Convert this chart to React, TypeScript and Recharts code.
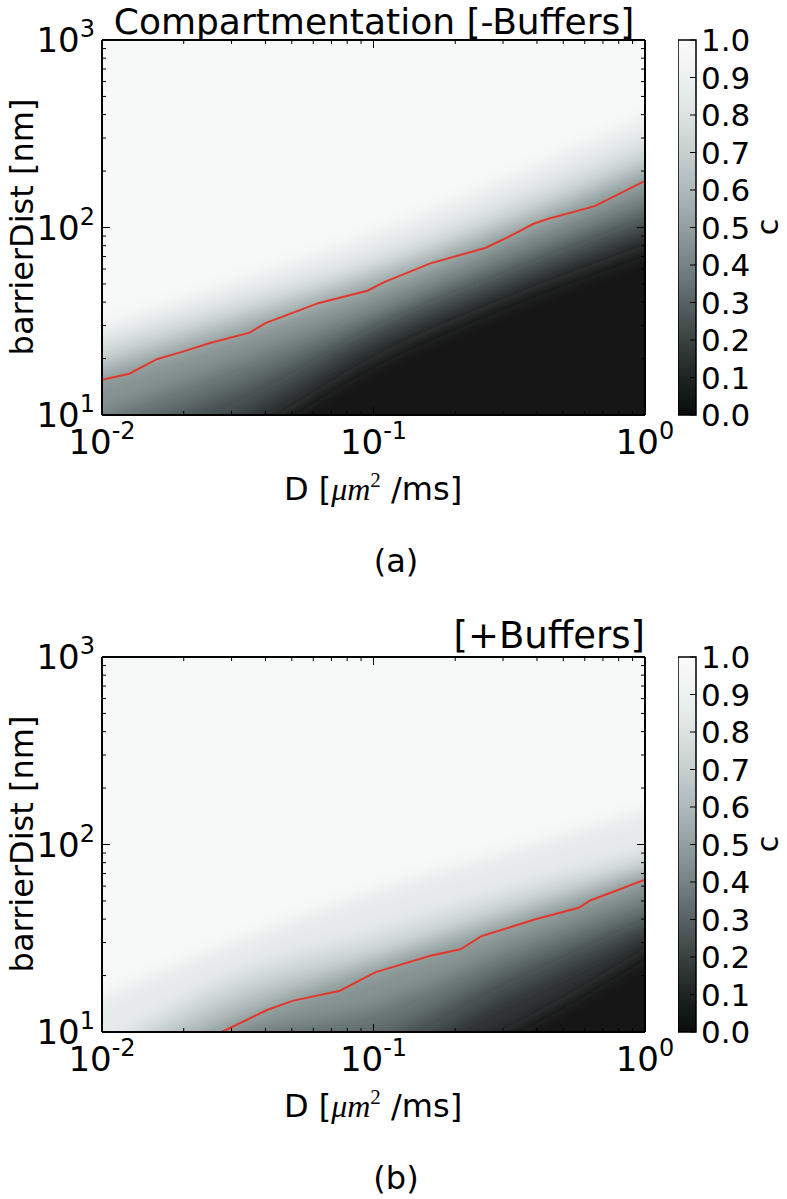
import React from 'react'
import { ComposedChart, Area, Line, XAxis, YAxis, CartesianGrid, BarChart, Bar } from 'recharts'

// tick positions (log axes get decade + minor ticks)
const xTicks = [0.01, 0.02, 0.03, 0.04, 0.05, 0.06, 0.07, 0.08, 0.09, 0.1, 0.2, 0.3, 0.4, 0.5, 0.6, 0.7, 0.8, 0.9, 1]
const yTicks = [10, 20, 30, 40, 50, 60, 70, 80, 90, 100, 200, 300, 400, 500, 600, 700, 800, 900, 1000]
const cbTicks = [0, 0.1, 0.2, 0.3, 0.4, 0.5, 0.6, 0.7, 0.8, 0.9, 1]
const cbData = [{ k: 'c', v: 1 }]

// grey colour map, c = 0.0 ... 1.0
const cmap = ['#0a0c0c', '#1f2323', '#3a4141', '#586262', '#778383', '#94a0a0', '#afb9b9', '#c7cfcf', '#dde2e2', '#eef1f1', '#fafbfb']
const topFill = '#f7f8f8'

const dCols = [0.01, 0.0316, 0.1, 0.316, 1]

// panel (a) [-Buffers]: barrierDist where c crosses each level
const a90 = [29, 50, 90, 180, 380]
const a80 = [24, 40, 68, 135, 280]
const a70 = [20, 34, 58, 112, 230]
const a60 = [17.5, 30, 52, 98, 200]
const a50 = [15.4, 26.3, 46, 89, 177]
const a40 = [10, 19, 36, 72, 140]
const a30 = [7.5, 14, 30, 60, 115]
const a20 = [5.5, 10, 25, 50, 95]
const a10 = [3, 7, 19, 40, 75]

// panel (b) [+Buffers]
const b90 = [15, 30, 55, 90, 150]
const b80 = [8, 20, 33, 56, 90]
const b70 = [6.5, 16, 26, 46, 76]
const b60 = [5.5, 13, 23, 40, 69]
const b50 = [4.8, 11, 20.5, 36, 65]
const b40 = [4, 9, 13.5, 27, 51]
const b30 = [3.3, 7.5, 9.5, 21, 41]
const b20 = [2.7, 6, 7, 15.5, 34]
const b10 = [2, 4.5, 5, 10, 26]

// red contour lines
const redAD = [0.01, 0.0126, 0.016, 0.0197, 0.025, 0.035, 0.04, 0.063, 0.095, 0.109, 0.162, 0.258, 0.309, 0.389, 0.441, 0.653, 1]
const redAV = [15.4, 16.6, 19.9, 21.7, 24.2, 27.5, 30.9, 39.6, 46, 51, 64.4, 77.8, 88.1, 104.7, 111.3, 130, 177]
const redBD = [0.0276, 0.0405, 0.0507, 0.0753, 0.1014, 0.162, 0.209, 0.251, 0.395, 0.57, 0.629, 1]
const redBV = [10, 13.1, 14.7, 16.6, 20.8, 25.5, 27.6, 32.5, 39.9, 46, 50.3, 65]

const levelKeys = ['c90', 'c80', 'c70', 'c60', 'c50', 'c40', 'c30', 'c20', 'c10']
const FLOOR = 1

const FONT = '"DejaVu Sans", sans-serif'

function mix(a: string, b: string) {
  const pa = [1, 3, 5].map(i => parseInt(a.slice(i, i + 2), 16))
  const pb = [1, 3, 5].map(i => parseInt(b.slice(i, i + 2), 16))
  return '#' + pa.map((v, i) => Math.round((v + pb[i]) / 2).toString(16).padStart(2, '0')).join('')
}

function buildTable(cols: number[][]) {
  return dCols.map((d, i) => {
    const row: Record<string, number> = { d }
    levelKeys.forEach((k, j) => { row[k] = cols[j][i] })
    return row
  })
}

const tableA = buildTable([a90, a80, a70, a60, a50, a40, a30, a20, a10])
const tableB = buildTable([b90, b80, b70, b60, b50, b40, b30, b20, b10])
const redA = redAD.map((d, i) => ({ d, v: redAV[i] }))
const redB = redBD.map((d, i) => ({ d, v: redBV[i] }))

const isDecade = (v: number) => Math.abs(Math.log10(v) - Math.round(Math.log10(v))) < 1e-6

// ticks point inwards like matplotlib; labels only on decades
function AxisTick(props: any) {
  const { x, y, payload, side } = props
  const v = payload.value
  const major = isDecade(v)
  const len = major ? 8 : 4
  const exp = String(Math.round(Math.log10(v)))
  let line
  let label = null
  if (side === 'bottom') {
    line = <line x1={x} x2={x} y1={y} y2={y - len} stroke="#000" strokeWidth={1} />
    if (major) label = (
      <text x={x} y={y + 39} textAnchor="middle" fontFamily={FONT} fontSize={34} fill="#000">
        10<tspan dy={-15} fontSize={24}>{exp}</tspan>
      </text>
    )
  } else if (side === 'top') {
    line = <line x1={x} x2={x} y1={y} y2={y + len} stroke="#000" strokeWidth={1} />
  } else if (side === 'left') {
    line = <line x1={x} x2={x + len} y1={y} y2={y} stroke="#000" strokeWidth={1} />
    if (major) label = (
      <text x={x - 7} y={y + 12} textAnchor="end" fontFamily={FONT} fontSize={34} fill="#000">
        10<tspan dy={-15} fontSize={24}>{exp}</tspan>
      </text>
    )
  } else {
    line = <line x1={x} x2={x - len} y1={y} y2={y} stroke="#000" strokeWidth={1} />
  }
  return <g>{line}{label}</g>
}

function CbTick(props: any) {
  const { x, y, payload } = props
  return (
    <g>
      <line x1={x} x2={x - 6} y1={y} y2={y} stroke="#000" strokeWidth={1} />
      <text x={x + 5} y={y + 11} fontFamily={FONT} fontSize={31} fill="#000">{Number(payload.value).toFixed(1)}</text>
    </g>
  )
}

function HeatPanel({ table, red, id }: { table: Record<string, number>[]; red: { d: number; v: number }[]; id: string }) {
  const frame = { stroke: '#000', strokeWidth: 2 }
  return (
    <ComposedChart width={787} height={600} data={table} margin={{ top: 39, right: 141, bottom: 125, left: 42 }}>
      <defs>
        <filter id={`soft-${id}`} x="-5%" y="-20%" width="110%" height="140%">
          <feGaussianBlur stdDeviation="0 9" />
        </filter>
      </defs>
      <CartesianGrid horizontal={false} vertical={false} fill={topFill} />
      {levelKeys.map((k, j) => (
        <Area key={k} type="monotone" dataKey={(r: any) => [FLOOR, r[k]]} stroke="none"
          fill={mix(cmap[8 - j], cmap[9 - j])} fillOpacity={1} filter={`url(#soft-${id})`}
          dot={false} activeDot={false} isAnimationActive={false} />
      ))}
      <Line data={red} dataKey="v" type="linear" stroke="#e2382a" strokeWidth={2} dot={false} activeDot={false}
        isAnimationActive={false} />
      <XAxis dataKey="d" type="number" scale="log" domain={[0.01, 1]} allowDataOverflow ticks={xTicks} interval={0}
        height={60} tickSize={0} tickMargin={0} axisLine={frame} tickLine={false}
        tick={(p: any) => <AxisTick {...p} side="bottom" />} />
      <XAxis xAxisId="top" orientation="top" dataKey="d" type="number" scale="log" domain={[0.01, 1]} allowDataOverflow
        ticks={xTicks} interval={0} height={1} tickSize={0} tickMargin={0} axisLine={frame} tickLine={false}
        tick={(p: any) => <AxisTick {...p} side="top" />} />
      <YAxis type="number" scale="log" domain={[10, 1000]} allowDataOverflow ticks={yTicks} interval={0}
        width={60} tickSize={0} tickMargin={0} axisLine={frame} tickLine={false}
        tick={(p: any) => <AxisTick {...p} side="left" />} />
      <YAxis yAxisId="right" orientation="right" type="number" scale="log" domain={[10, 1000]} allowDataOverflow
        ticks={yTicks} interval={0} width={1} tickSize={0} tickMargin={0} axisLine={frame} tickLine={false}
        tick={(p: any) => <AxisTick {...p} side="right" />} />
    </ComposedChart>
  )
}

function ColorBar({ id }: { id: string }) {
  return (
    <BarChart width={109} height={600} data={cbData} margin={{ top: 40, right: 31, bottom: 185, left: 0 }} barCategoryGap={0}>
      <defs>
        <linearGradient id={id} x1="0" y1="1" x2="0" y2="0">
          {cmap.map((c, i) => <stop key={i} offset={i / 10} stopColor={c} />)}
        </linearGradient>
      </defs>
      <XAxis dataKey="k" hide />
      <YAxis orientation="right" domain={[0, 1]} ticks={cbTicks} interval={0} width={60} tickSize={0} tickMargin={0}
        axisLine={false} tickLine={false} tick={(p: any) => <CbTick {...p} />} />
      <Bar dataKey="v" fill={`url(#${id})`} stroke="#000" strokeWidth={1.5} isAnimationActive={false} />
    </BarChart>
  )
}

function Labels({ oy, tag }: { oy: number; tag: string }) {
  return (
    <g fontFamily={FONT} fill="#000">
      <text transform={`translate(33 ${oy + 227}) rotate(-90)`} textAnchor="middle" fontSize={32}>barrierDist [nm]</text>
      <text transform={`translate(778 ${oy + 227}) rotate(-90)`} textAnchor="middle" fontSize={30}>c</text>
      <text x={373} y={oy + 500} textAnchor="middle" fontSize={32}>
        D [<tspan fontFamily='"Liberation Serif", serif' fontStyle="italic">μm</tspan>
        <tspan fontFamily='"Liberation Serif", serif' fontSize={21} dy={-13}>2</tspan>
        <tspan dy={13}> /ms]</tspan>
      </text>
      <text x={396} y={oy + 572} textAnchor="middle" fontSize={32}>{tag}</text>
    </g>
  )
}

export default function App() {
  return (
    <div style={{ position: 'absolute', left: 0, top: 0, width: 787, height: 1199, background: '#fff', overflow: 'hidden' }}>
      <div style={{ position: 'absolute', left: 0, top: 0 }}>
        <HeatPanel table={tableA} red={redA} id="a" />
      </div>
      <div style={{ position: 'absolute', left: 678, top: 0 }}>
        <ColorBar id="cbA" />
      </div>
      <div style={{ position: 'absolute', left: 0, top: 617 }}>
        <HeatPanel table={tableB} red={redB} id="b" />
      </div>
      <div style={{ position: 'absolute', left: 678, top: 617 }}>
        <ColorBar id="cbB" />
      </div>
      <svg width={787} height={1199} style={{ position: 'absolute', left: 0, top: 0, pointerEvents: 'none' }}>
        <text x={374} y={34} textAnchor="middle" fontFamily={FONT} fontSize={36}>Compartmentation [-Buffers]</text>
        <text x={645} y={648} textAnchor="end" fontFamily={FONT} fontSize={37}>[+Buffers]</text>
        <Labels oy={0} tag="(a)" />
        <Labels oy={617} tag="(b)" />
      </svg>
    </div>
  )
}
